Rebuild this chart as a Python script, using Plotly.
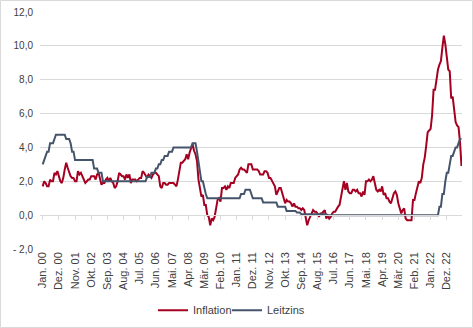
import plotly.graph_objects as go

# Monthly series, Jan 2000 - Oct 2023
month_abbr = ["Jan.", "Feb.", "Mär.", "Apr.", "Mai.", "Jun.",
              "Jul.", "Aug.", "Sep.", "Okt.", "Nov.", "Dez."]
first_year, last_year, last_month = 2000, 2023, 10
months = [f"{month_abbr[m]} {y % 100:02d}"
          for y in range(first_year, last_year + 1)
          for m in range(12)
          if not (y == last_year and m >= last_month)]

inflation = [
    1.7, 2.0, 1.9, 1.7, 1.7, 2.1, 2.0, 2.0, 2.5, 2.4, 2.6, 2.2,      # 2000
    2.0, 1.9, 2.2, 2.7, 3.1, 2.8, 2.5, 2.3, 2.2, 2.2, 2.0, 2.0,      # 2001
    2.6, 2.4, 2.5, 2.3, 2.0, 1.9, 2.0, 2.1, 2.1, 2.3, 2.3, 2.3,      # 2002
    2.1, 2.4, 2.5, 2.1, 1.8, 1.9, 1.9, 2.1, 2.2, 2.0, 2.2, 2.0,      # 2003
    1.9, 1.6, 1.7, 2.0, 2.5, 2.4, 2.3, 2.3, 2.1, 2.4, 2.2, 2.4,      # 2004
    1.9, 2.1, 2.1, 2.1, 2.0, 2.1, 2.2, 2.2, 2.6, 2.5, 2.3, 2.2,      # 2005
    2.4, 2.3, 2.2, 2.4, 2.5, 2.5, 2.4, 2.3, 1.7, 1.6, 1.9, 1.9,      # 2006
    1.8, 1.8, 1.9, 1.9, 1.9, 1.9, 1.8, 1.7, 2.1, 2.6, 3.1, 3.1,      # 2007
    3.2, 3.3, 3.6, 3.3, 3.7, 4.0, 4.2, 3.8, 3.6, 3.2, 2.1, 1.6,      # 2008
    1.1, 1.2, 0.6, 0.6, 0.0, -0.1, -0.6, -0.2, -0.3, -0.1, 0.5, 0.9, # 2009
    1.0, 0.8, 1.6, 1.6, 1.7, 1.5, 1.7, 1.6, 1.9, 1.9, 1.9, 2.2,      # 2010
    2.3, 2.4, 2.7, 2.8, 2.7, 2.7, 2.6, 2.5, 3.0, 3.0, 3.0, 2.7,      # 2011
    2.7, 2.7, 2.7, 2.6, 2.4, 2.4, 2.4, 2.6, 2.6, 2.5, 2.2, 2.2,      # 2012
    2.0, 1.8, 1.7, 1.2, 1.4, 1.6, 1.6, 1.3, 1.1, 0.7, 0.9, 0.8,      # 2013
    0.8, 0.7, 0.5, 0.7, 0.5, 0.5, 0.4, 0.4, 0.3, 0.4, 0.3, -0.2,     # 2014
    -0.6, -0.3, -0.1, 0.2, 0.3, 0.2, 0.2, 0.1, -0.1, 0.1, 0.1, 0.2,  # 2015
    0.3, -0.2, 0.0, -0.2, -0.1, 0.1, 0.2, 0.2, 0.4, 0.5, 0.6, 1.1,   # 2016
    1.7, 2.0, 1.5, 1.9, 1.4, 1.3, 1.3, 1.5, 1.5, 1.4, 1.5, 1.3,      # 2017
    1.3, 1.1, 1.4, 1.2, 2.0, 2.0, 2.1, 2.0, 2.1, 2.3, 1.9, 1.5,      # 2018
    1.4, 1.5, 1.4, 1.7, 1.2, 1.3, 1.0, 1.0, 0.8, 0.7, 1.0, 1.3,      # 2019
    1.4, 1.2, 0.7, 0.3, 0.1, 0.3, 0.4, -0.2, -0.3, -0.3, -0.3, -0.3, # 2020
    0.9, 0.9, 1.3, 1.6, 2.0, 1.9, 2.2, 3.0, 3.4, 4.1, 4.9, 5.0,      # 2021
    5.1, 5.9, 7.4, 7.4, 8.1, 8.6, 8.9, 9.1, 9.9, 10.6, 10.1, 9.2,    # 2022
    8.6, 8.5, 6.9, 7.0, 6.1, 5.5, 5.3, 5.2, 4.3, 2.9,                # 2023
]

leitzins = [
    3.0, 3.25, 3.5, 3.75, 3.75, 4.25, 4.25, 4.25, 4.5, 4.75, 4.75, 4.75,   # 2000
    4.75, 4.75, 4.75, 4.75, 4.5, 4.5, 4.5, 4.25, 3.75, 3.75, 3.25, 3.25,   # 2001
    3.25, 3.25, 3.25, 3.25, 3.25, 3.25, 3.25, 3.25, 3.25, 3.25, 3.25, 2.75,# 2002
    2.75, 2.75, 2.5, 2.5, 2.5, 2.0, 2.0, 2.0, 2.0, 2.0, 2.0, 2.0,          # 2003
    2.0, 2.0, 2.0, 2.0, 2.0, 2.0, 2.0, 2.0, 2.0, 2.0, 2.0, 2.0,            # 2004
    2.0, 2.0, 2.0, 2.0, 2.0, 2.0, 2.0, 2.0, 2.0, 2.0, 2.0, 2.25,           # 2005
    2.25, 2.25, 2.5, 2.5, 2.5, 2.75, 2.75, 3.0, 3.0, 3.25, 3.25, 3.5,      # 2006
    3.5, 3.5, 3.75, 3.75, 3.75, 4.0, 4.0, 4.0, 4.0, 4.0, 4.0, 4.0,         # 2007
    4.0, 4.0, 4.0, 4.0, 4.0, 4.0, 4.25, 4.25, 4.25, 3.75, 3.25, 2.5,       # 2008
    2.0, 2.0, 1.5, 1.25, 1.0, 1.0, 1.0, 1.0, 1.0, 1.0, 1.0, 1.0,           # 2009
    1.0, 1.0, 1.0, 1.0, 1.0, 1.0, 1.0, 1.0, 1.0, 1.0, 1.0, 1.0,            # 2010
    1.0, 1.0, 1.0, 1.25, 1.25, 1.25, 1.5, 1.5, 1.5, 1.5, 1.25, 1.0,        # 2011
    1.0, 1.0, 1.0, 1.0, 1.0, 1.0, 0.75, 0.75, 0.75, 0.75, 0.75, 0.75,      # 2012
    0.75, 0.75, 0.75, 0.75, 0.5, 0.5, 0.5, 0.5, 0.5, 0.5, 0.25, 0.25,      # 2013
    0.25, 0.25, 0.25, 0.25, 0.25, 0.15, 0.15, 0.15, 0.05, 0.05, 0.05, 0.05,# 2014
    0.05, 0.05, 0.05, 0.05, 0.05, 0.05, 0.05, 0.05, 0.05, 0.05, 0.05, 0.05,# 2015
    0.05, 0.05, 0.0, 0.0, 0.0, 0.0, 0.0, 0.0, 0.0, 0.0, 0.0, 0.0,          # 2016
    0.0, 0.0, 0.0, 0.0, 0.0, 0.0, 0.0, 0.0, 0.0, 0.0, 0.0, 0.0,            # 2017
    0.0, 0.0, 0.0, 0.0, 0.0, 0.0, 0.0, 0.0, 0.0, 0.0, 0.0, 0.0,            # 2018
    0.0, 0.0, 0.0, 0.0, 0.0, 0.0, 0.0, 0.0, 0.0, 0.0, 0.0, 0.0,            # 2019
    0.0, 0.0, 0.0, 0.0, 0.0, 0.0, 0.0, 0.0, 0.0, 0.0, 0.0, 0.0,            # 2020
    0.0, 0.0, 0.0, 0.0, 0.0, 0.0, 0.0, 0.0, 0.0, 0.0, 0.0, 0.0,            # 2021
    0.0, 0.0, 0.0, 0.0, 0.0, 0.0, 0.5, 0.5, 1.25, 1.25, 2.0, 2.5,          # 2022
    2.5, 3.0, 3.5, 3.5, 3.75, 4.0, 4.0, 4.25, 4.5, 4.5,                    # 2023
]

x_ticks = ["Jan. 00", "Dez. 00", "Nov. 01", "Okt. 02", "Sep. 03", "Aug. 04",
           "Jul. 05", "Jun. 06", "Mai. 07", "Apr. 08", "Mär. 09", "Feb. 10",
           "Jan. 11", "Dez. 11", "Nov. 12", "Okt. 13", "Sep. 14", "Aug. 15",
           "Jul. 16", "Jun. 17", "Mai. 18", "Apr. 19", "Mär. 20", "Feb. 21",
           "Jan. 22", "Dez. 22"]
y_ticks = [-2, 0, 2, 4, 6, 8, 10, 12]
y_tick_text = ["-\u00a02,0", "0,0", "2,0", "4,0", "6,0", "8,0", "10,0", "12,0"]

W, H = 473, 328
M_L, M_R, M_T, M_B = 40, 11, 12, 79
PW, PH = W - M_L - M_R, H - M_T - M_B
Y_MIN, Y_MAX = -2, 12
X_RANGE = [-1.84, 285.35]
GRID = "#d9d9d9"
TEXT = "#404040"
FONT = "Liberation Sans, Arial, sans-serif"

fig = go.Figure()
fig.add_trace(go.Scatter(x=months, y=inflation, name="Inflation", mode="lines",
                         line=dict(color="#a50021", width=2),
                         xaxis="x", yaxis="y", legend="legend"))
fig.add_trace(go.Scatter(x=months, y=leitzins, name="Leitzins", mode="lines",
                         line=dict(color="#44546a", width=2),
                         xaxis="x2", yaxis="y", legend="legend2"))

# one legend box per series, side by side below the axis labels
legend_common = dict(orientation="h", xanchor="left", y=-0.258,
                     yanchor="middle", font=dict(size=11, color=TEXT),
                     itemwidth=30, bgcolor="rgba(0,0,0,0)")

fig.update_layout(
    template="none",
    width=W, height=H,
    margin=dict(l=M_L, r=M_R, t=M_T, b=M_B, autoexpand=False),
    paper_bgcolor="white", plot_bgcolor="white",
    font=dict(family=FONT, size=10, color=TEXT),
    showlegend=True,
    legend=dict(x=(153 - M_L) / PW, **legend_common),
    legend2=dict(x=(227 - M_L) / PW, **legend_common),
    xaxis=dict(type="category", categoryarray=months, categoryorder="array",
               range=X_RANGE, tickmode="array", tickvals=x_ticks,
               ticktext=x_ticks, tickangle=-90, showgrid=False,
               showline=False, zeroline=False, ticks="", automargin=False,
               tickfont=dict(size=11, color=TEXT)),
    xaxis2=dict(type="category", categoryarray=months, categoryorder="array",
                range=X_RANGE, overlaying="x", anchor="free",
                position=(0 - Y_MIN) / (Y_MAX - Y_MIN),
                tickmode="array", tickvals=x_ticks, showticklabels=False,
                ticks="outside", ticklen=4, tickcolor=GRID, tickwidth=1,
                showline=True, linecolor=GRID, linewidth=1, automargin=False,
                showgrid=False, zeroline=False),
    yaxis=dict(range=[Y_MIN, Y_MAX], tickmode="array", tickvals=y_ticks,
               ticktext=y_tick_text, showgrid=True, gridcolor=GRID,
               gridwidth=1, zeroline=False, showline=False, ticks="",
               automargin=False, ticklabelstandoff=6,
               tickfont=dict(size=10, color=TEXT)),
)

# thin frame around the whole chart area
fig.add_shape(type="rect", xref="paper", yref="paper",
              x0=(0.5 - M_L) / PW, x1=(W - 0.5 - M_L) / PW,
              y0=-(M_B - 0.5) / PH, y1=1 + (M_T - 0.5) / PH,
              line=dict(color=GRID, width=1), fillcolor="rgba(0,0,0,0)",
              layer="below")

fig.write_html("out.html")
